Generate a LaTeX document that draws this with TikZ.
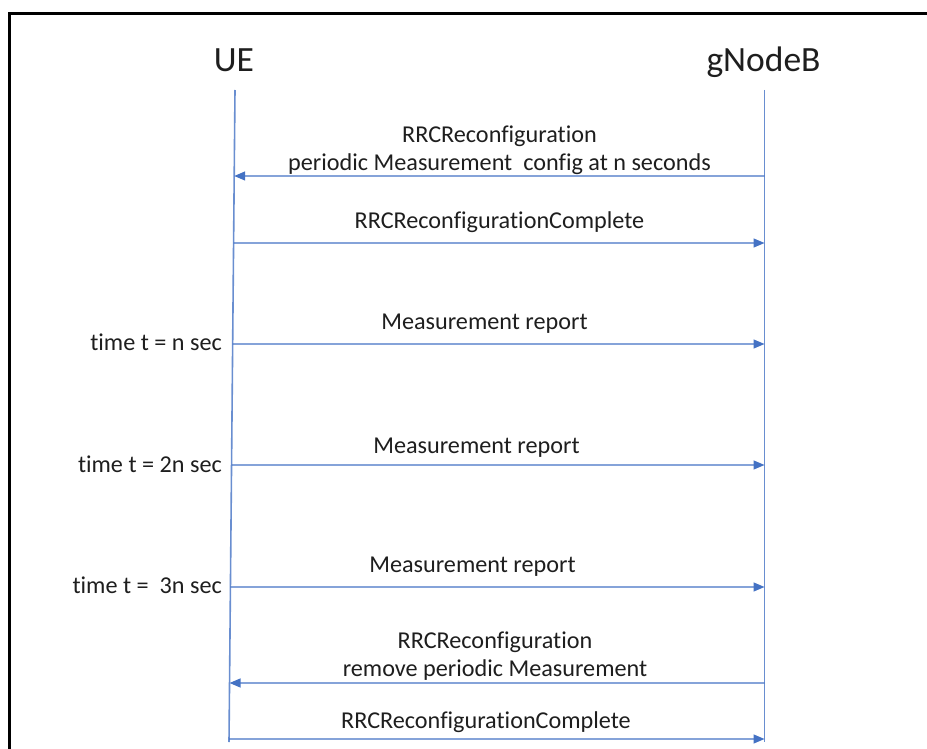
\documentclass[tikz,border=0pt]{standalone}
\usepackage{fontspec}
\setmainfont{Carlito}[Ligatures=NoCommon]
\usetikzlibrary{arrows.meta,calc}
\definecolor{lineblue}{RGB}{68,114,196}
\definecolor{txt}{RGB}{30,30,30}
\tikzset{
  title/.style={font=\fontsize{35.5}{40}\selectfont, text=txt, anchor=base, inner sep=0pt},
  lbl/.style={font=\fontsize{24.2}{28}\selectfont, text=txt, anchor=base, inner sep=0pt},
  tlbl/.style={font=\fontsize{24.2}{28}\selectfont, text=txt, anchor=base east, inner sep=0pt},
  life/.style={draw=lineblue!80, line width=1.6pt},
  msg/.style={draw=lineblue, line width=1.4pt, -{Triangle[length=11pt,width=9pt]}},
  frame/.style={draw=black, line width=2.6pt}
}
\begin{document}
\begin{tikzpicture}[x=1pt,y=-1pt]
\useasboundingbox (0,0) rectangle (927,749);
% frame (left and top edges visible)
\draw[frame] (9.2,760) -- (9.2,13.8) -- (940,13.8);
% titles
\node[title] (ue) at (234,72) {UE};
\node[title] (gnb) at (763.5,72) {gNodeB};
% lifelines
\coordinate (ueT) at (235,90);
\coordinate (ueB) at (229,742);
\coordinate (gT) at (764.5,90);
\coordinate (gB) at (764.5,742);
\draw[life] (ueT) -- (ueB);
\draw[life] (gT) -- (gB);
% message endpoints
\foreach \n/\y in {a/176,b/243,c/344,d/465,e/587,f/683,g/739}{
  \coordinate (u\n) at ($(ueT)!{(\y-90)/652}!(ueB)$);
  \coordinate (g\n) at (764.5,\y);
}
% messages
\draw[msg] (ga) -- (ua);
\node[lbl] (la1) at (499.5,143) {RRCReconfiguration};
\node[lbl] (la2) at (499.5,171) {periodic Measurement\ \ config at n seconds};
\draw[msg] (ub) -- (gb);
\node[lbl] (lb) at (499.5,229) {RRCReconfigurationComplete};
\draw[msg] (uc) -- (gc);
\node[lbl] (lc) at (484.5,329) {Measurement report};
\node[tlbl] (tc) at (222,350) {time t = n sec};
\draw[msg] (ud) -- (gd);
\node[lbl] (ld) at (476.5,453) {Measurement report};
\node[tlbl] (td) at (222,472) {time t = 2n sec};
\draw[msg] (ue) -- (ge);
\node[lbl] (le) at (472.5,572) {Measurement report};
\node[tlbl] (te) at (222,593) {time t =\ \ 3n sec};
\draw[msg] (gf) -- (uf);
\node[lbl] (lf1) at (495,648) {RRCReconfiguration};
\node[lbl] (lf2) at (495,676) {remove periodic Measurement};
\draw[msg] (ug) -- (gg);
\node[lbl] (lg) at (486,728) {RRCReconfigurationComplete};
\end{tikzpicture}
\end{document}
